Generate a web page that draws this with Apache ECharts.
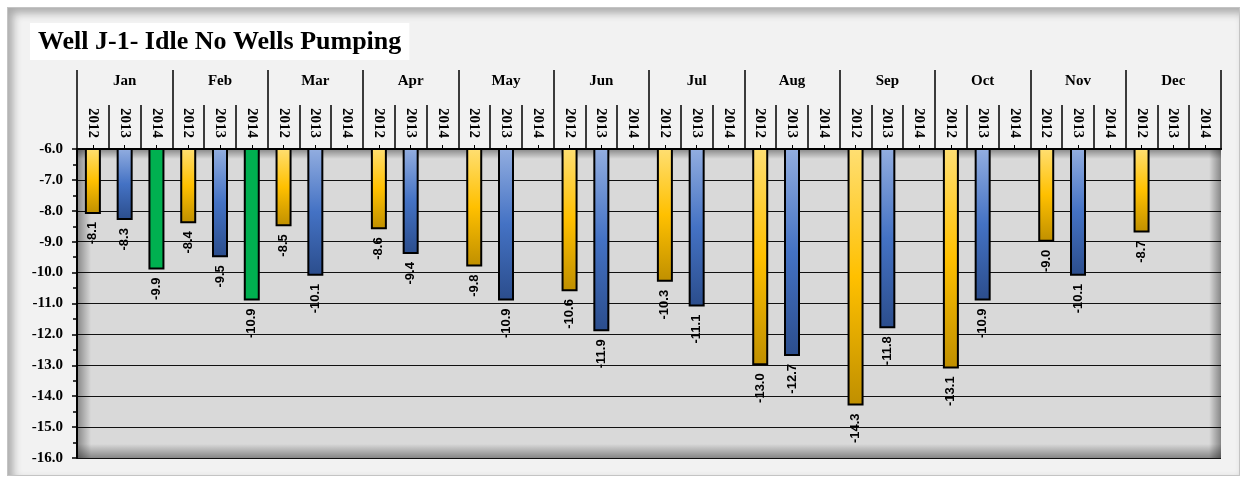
<!DOCTYPE html>
<html>
<head>
<meta charset="utf-8">
<script src="https://cdn.jsdelivr.net/npm/echarts@6/dist/echarts.min.js"></script>
<style>
  html, body { margin: 0; padding: 0; background: #ffffff; }
  #frame {
    position: absolute; left: 7px; top: 7px; width: 1231px; height: 467px;
    background: #f2f2f2; border: 1px solid #c4c4c4;
    box-shadow: inset 5px 5px 8px rgba(0,0,0,0.30);
  }
  #main { position: absolute; left: 0; top: 0; width: 1244px; height: 478px; }
</style>
</head>
<body>
<div id="frame"></div>
<div id="main"></div>
<script>
// chart values
var months = ['Jan', 'Feb', 'Mar', 'Apr', 'May', 'Jun', 'Jul', 'Aug', 'Sep', 'Oct', 'Nov', 'Dec'];
var years = ['2012', '2013', '2014'];
var values2012 = [-8.1, -8.4, -8.5, -8.6, -9.8, -10.6, -10.3, -13.0, -14.3, -13.1, -9.0, -8.7];
var values2013 = [-8.3, -9.5, -10.1, -9.4, -10.9, -11.9, -11.1, -12.7, -11.8, -10.9, -10.1, null];
var values2014 = [-9.9, -10.9, null, null, null, null, null, null, null, null, null, null];
var yMin = -16, yMax = -6, yStep = 1;

var myChart = echarts.init(document.getElementById('main'));

// one slot per month/year pair
var slots = [];
months.forEach(function () { years.forEach(function (y) { slots.push(y); }); });

function spread(values, yearIdx) {
  var out = [];
  months.forEach(function (m, i) {
    years.forEach(function (y, j) {
      out.push(j === yearIdx ? values[i] : null);
    });
  });
  return out;
}

function grad(top, mid, bottom) {
  return new echarts.graphic.LinearGradient(0, 0, 0, 1, [
    { offset: 0, color: top },
    { offset: 0.5, color: mid },
    { offset: 1, color: bottom }
  ]);
}

var serif = 'Liberation Serif';
var barLabel = {
  show: true,
  position: 'bottom',
  distance: 8,
  rotate: 90,
  align: 'right',
  verticalAlign: 'middle',
  fontFamily: 'Liberation Sans',
  fontWeight: 'bold',
  fontSize: 13,
  color: '#000',
  formatter: function (p) { return p.value == null ? '' : p.value.toFixed(1); }
};

function barSeries(name, values, idx, color) {
  return {
    name: name,
    type: 'bar',
    xAxisIndex: 0,
    barWidth: 16,
    barGap: '-100%',
    data: spread(values, idx),
    itemStyle: { color: color, borderColor: '#000', borderWidth: 2 },
    label: barLabel,
    z: 3
  };
}

// edge shading of the plot area
var gl = 77, gt = 149, gr = 1221, gb = 458;
function shade(x, y, w, h, x0, y0, x1, y1) {
  return {
    type: 'rect', z: 1, silent: true,
    shape: { x: x, y: y, width: w, height: h },
    style: {
      fill: new echarts.graphic.LinearGradient(x0, y0, x1, y1, [
        { offset: 0, color: 'rgba(0,0,0,0.38)' },
        { offset: 1, color: 'rgba(0,0,0,0)' }
      ])
    }
  };
}

var option = {
  animation: false,
  backgroundColor: 'transparent',
  title: {
    text: 'Well J-1- Idle No Wells Pumping',
    left: 30,
    top: 23,
    padding: [6, 8, 5, 8],
    backgroundColor: '#ffffff',
    textStyle: { fontFamily: serif, fontWeight: 'bold', fontSize: 26, color: '#000' }
  },
  grid: {
    left: gl, top: gt, right: 1244 - gr, bottom: 478 - gb,
    show: true, backgroundColor: '#d9d9d9', borderWidth: 0
  },
  graphic: [
    shade(gl, gt, 14, gb - gt, 0, 0, 1, 0),
    shade(gr - 12, gt, 12, gb - gt, 1, 0, 0, 0),
    shade(gl, gb - 14, gr - gl, 14, 0, 1, 0, 0),
    shade(gl, gt, gr - gl, 10, 0, 0, 0, 1)
  ],
  xAxis: [
    {
      type: 'category',
      data: slots,
      position: 'top',
      axisLine: { show: true, onZero: false, lineStyle: { color: '#000', width: 2 } },
      axisTick: { show: true, interval: 0, length: 44, lineStyle: { color: '#000', width: 1.5 } },
      axisLabel: {
        interval: 0, rotate: 90, margin: 11,
        fontFamily: serif, fontWeight: 'bold', fontSize: 15, color: '#000'
      },
      splitLine: { show: false }
    },
    {
      type: 'category',
      data: months,
      position: 'top',
      axisLine: { show: true, onZero: false, lineStyle: { color: '#000', width: 2 } },
      axisTick: { show: true, interval: 0, length: 79, lineStyle: { color: '#000', width: 1.5 } },
      axisLabel: {
        interval: 0, margin: 60,
        fontFamily: serif, fontWeight: 'bold', fontSize: 15, color: '#000'
      },
      splitLine: { show: false }
    },
    {
      type: 'category',
      data: slots,
      position: 'top',
      axisLine: { show: false, onZero: false },
      axisTick: { show: true, interval: 0, alignWithLabel: true, length: 4, lineStyle: { color: '#000', width: 1 } },
      axisLabel: { show: false },
      splitLine: { show: false }
    }
  ],
  yAxis: {
    type: 'value',
    min: yMin,
    max: yMax,
    interval: yStep,
    axisLine: { show: true, lineStyle: { color: '#000', width: 2 } },
    axisTick: { show: true, length: 5, lineStyle: { color: '#000', width: 1.5 } },
    minorTick: { show: true, splitNumber: 2, length: 4, lineStyle: { color: '#000', width: 1.5 } },
    axisLabel: {
      margin: 14,
      fontFamily: serif, fontWeight: 'bold', fontSize: 15, color: '#000',
      formatter: function (v) { return v.toFixed(1); }
    },
    splitLine: { show: true, lineStyle: { color: '#111', width: 1 } }
  },
  series: [
    barSeries('2012', values2012, 0, grad('#ffdf73', '#ffc000', '#bf8f00')),
    barSeries('2013', values2013, 1, grad('#93aee0', '#4472c4', '#2b4d8c')),
    barSeries('2014', values2014, 2, '#00b050')
  ]
};

myChart.setOption(option);
</script>
</body>
</html>
